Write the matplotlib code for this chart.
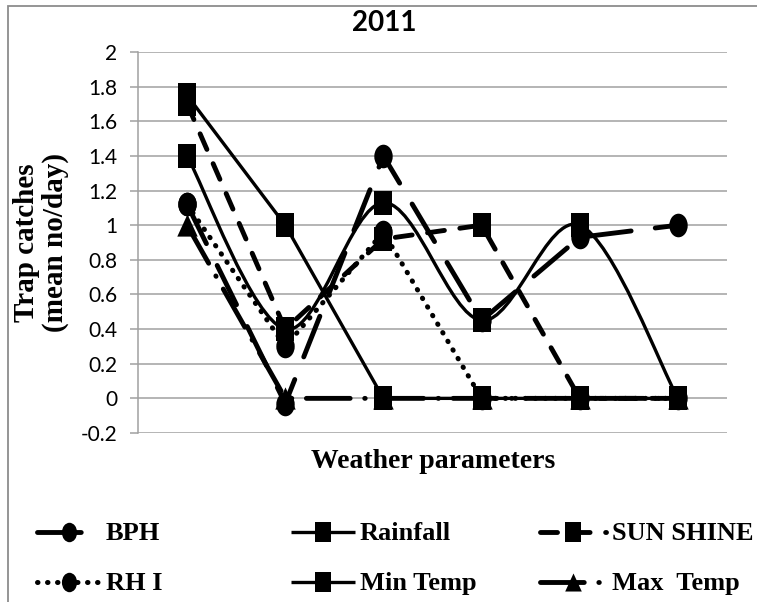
"""Trap catches vs weather parameters, 2011 line chart."""

import matplotlib

matplotlib.use("Agg")

import matplotlib.pyplot as plt
import numpy as np
from matplotlib.lines import Line2D
from matplotlib.patches import PathPatch, Rectangle
from matplotlib.path import Path

TITLE = "2011"
X_LABEL = "Weather parameters"
Y_LABEL = "Trap catches\n(mean no/day)"

positions = [1, 2, 3, 4, 5, 6]
y_ticks = [-0.2, 0.0, 0.2, 0.4, 0.6, 0.8, 1.0, 1.2, 1.4, 1.6, 1.8, 2.0]
y_tick_labels = ["-0.2", "0", "0.2", "0.4", "0.6", "0.8", "1", "1.2", "1.4", "1.6", "1.8", "2"]

series_names = ["BPH", "Rainfall", "SUN SHINE", "RH I", "Min Temp", "Max  Temp"]
bph = [1.12, -0.03, 1.40, 0.45, 0.93, 1.00]
rainfall = [1.75, 1.00, 0.00, 0.00, 0.00, 0.00]
sun_shine = [1.70, 0.40, 0.92, 1.00, 0.00, 0.00]
rh_i = [1.12, 0.30, 0.96, 0.00, 0.00, 0.00]
min_temp = [1.40, 0.40, 1.13, 0.45, 1.00, 0.00]
max_temp = [1.00, 0.00, 0.00, 0.00, 0.00, 0.00]

W, H = 757, 602
GRID = "#a0a0a0"
SERIF = "Liberation Serif"
SANS = "Lato"


def _ellipse(ratio=0.78):
    circle = Path.unit_circle()
    verts = circle.vertices.copy()
    verts[:, 0] *= ratio
    return Path(verts, circle.codes)


# markers a little taller than wide, as in the source picture
SQUARE = Path(
    [(-0.4, -0.5), (0.4, -0.5), (0.4, 0.5), (-0.4, 0.5), (-0.4, -0.5)],
    [Path.MOVETO, Path.LINETO, Path.LINETO, Path.LINETO, Path.CLOSEPOLY],
)
CIRCLE = _ellipse()
TRIANGLE = Path(
    [(0.0, 0.5), (-0.46, -0.5), (0.46, -0.5), (0.0, 0.5)],
    [Path.MOVETO, Path.LINETO, Path.LINETO, Path.CLOSEPOLY],
)

styles = {
    "BPH": dict(lw=3.5, ls=(0, (9, 5)), marker=CIRCLE, ms=17, smooth=False),
    "Rainfall": dict(lw=2.4, ls="-", marker=SQUARE, ms=17, smooth=False),
    "SUN SHINE": dict(lw=3.5, ls=(0, (3.5, 3.2)), marker=SQUARE, ms=17, smooth=False),
    "RH I": dict(lw=3.6, ls=(0, (0.1, 1.9)), marker=CIRCLE, ms=17, smooth=False),
    "Min Temp": dict(lw=2.4, ls="-", marker=SQUARE, ms=17, smooth=True),
    "Max  Temp": dict(lw=3.5, ls=(0, (9, 3, 0.1, 3)), marker=TRIANGLE, ms=16, smooth=False),
}


def px_x(x):
    return x / W


def px_y(y):
    return 1 - y / H


def smooth_path(xs, ys):
    """Bezier path through the points, like a spreadsheet smoothed line."""
    pts = np.column_stack([xs, ys]).astype(float)
    verts = [pts[0]]
    codes = [Path.MOVETO]
    n = len(pts)
    for i in range(n - 1):
        prev_pt = pts[i - 1] if i > 0 else pts[i]
        next_pt = pts[i + 2] if i + 2 < n else pts[i + 1]
        c1 = pts[i] + (pts[i + 1] - prev_pt) / 6.0
        c2 = pts[i + 1] - (next_pt - pts[i]) / 6.0
        verts += [c1, c2, pts[i + 1]]
        codes += [Path.CURVE4] * 3
    return Path(np.array(verts), codes)


fig = plt.figure(figsize=(W / 100, H / 100), dpi=100)
fig.patch.set_facecolor("white")
ax = fig.add_axes([px_x(138), px_y(433), px_x(727 - 138), (433 - 52) / H])

values = [bph, rainfall, sun_shine, rh_i, min_temp, max_temp]
for z, (name, ys) in enumerate(zip(series_names, values)):
    st = styles[name]
    if st["smooth"]:
        patch = PathPatch(
            smooth_path(positions, ys), facecolor="none", edgecolor="black",
            lw=st["lw"], linestyle=st["ls"], zorder=3 + z,
        )
        ax.add_patch(patch)
    else:
        ax.plot(
            positions, ys, color="black", lw=st["lw"], linestyle=st["ls"],
            dash_capstyle="round", solid_capstyle="round", zorder=3 + z,
        )
    ax.plot(
        positions, ys, linestyle="none", marker=st["marker"], ms=st["ms"],
        color="black", markeredgewidth=0, zorder=3 + z, clip_on=False,
    )

ax.set_xlim(0.5, 6.5)
ax.set_ylim(-0.2, 2.0)
ax.set_xticks([])
ax.set_yticks(y_ticks)
ax.set_yticklabels(y_tick_labels, fontfamily=SANS, fontsize=15)
ax.tick_params(axis="y", length=6, width=1.1, color=GRID, pad=9)
ax.yaxis.grid(True, color=GRID, lw=1.1)
ax.set_axisbelow(True)
for side in ("top", "right", "bottom"):
    ax.spines[side].set_visible(False)
ax.spines["left"].set_color(GRID)
ax.spines["left"].set_linewidth(1.1)

# outer chart frame
fig.add_artist(Rectangle(
    (px_x(8), -1.0), 2.0, px_y(6) + 1.0, transform=fig.transFigure,
    fill=False, edgecolor="#8c8c8c", lw=1.3,
))

fig.text(px_x(384), px_y(23), TITLE, ha="center", va="center",
         fontfamily=SANS, fontweight="bold", fontsize=20)
fig.text(px_x(433), px_y(462), X_LABEL, ha="center", va="center",
         fontfamily=SERIF, fontweight="bold", fontsize=20)
fig.text(px_x(41), px_y(243), Y_LABEL, ha="center", va="center", rotation=90,
         multialignment="center", linespacing=1.1,
         fontfamily=SERIF, fontweight="bold", fontsize=21)

# legend laid out like the spreadsheet: 3 columns x 2 rows
legend_cols = [(37, 100, 106), (291, 355, 360), (540, 606, 612)]
legend_rows = [(532, 540), (582, 590)]
for idx, name in enumerate(series_names):
    st = styles[name]
    x0, x1, tx = legend_cols[idx % 3]
    ym, yb = legend_rows[idx // 3]
    fig.add_artist(Line2D(
        [px_x(x0), px_x(x1)], [px_y(ym), px_y(ym)], transform=fig.transFigure,
        color="black", lw=st["lw"], linestyle=st["ls"],
        dash_capstyle="round", solid_capstyle="butt",
    ))
    fig.add_artist(Line2D(
        [px_x((x0 + x1) / 2)], [px_y(ym)], transform=fig.transFigure,
        linestyle="none", marker=st["marker"], ms=st["ms"] - 3,
        color="black", markeredgewidth=0,
    ))
    fig.text(px_x(tx), px_y(yb), name, ha="left", va="baseline",
             fontfamily=SERIF, fontweight="bold", fontsize=19)

fig.savefig("out.png", dpi=100)
